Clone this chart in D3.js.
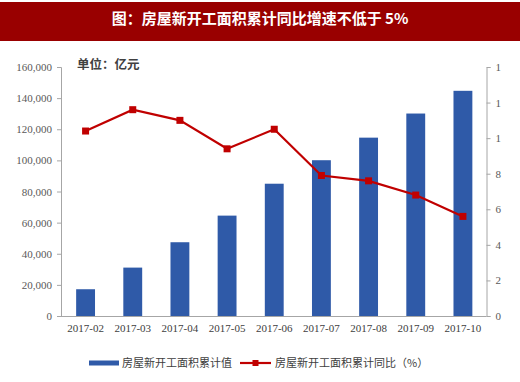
<!DOCTYPE html>
<html><head><meta charset="utf-8">
<script src="https://cdn.jsdelivr.net/npm/d3@7"></script>
<style>html,body{margin:0;padding:0;background:#fff;}svg{display:block;}</style>
</head><body>
<svg id="c" width="520" height="382"></svg>
<script>
const categories = ["2017-02","2017-03","2017-04","2017-05","2017-06","2017-07","2017-08","2017-09","2017-10"];
const areaValues = [17200, 31100, 47400, 64500, 85000, 100100, 114600, 130100, 144700];
const yoyValues = [10.4, 11.6, 11.0, 9.4, 10.5, 7.9, 7.6, 6.8, 5.6];
const leftTicks = [0, 20000, 40000, 60000, 80000, 100000, 120000, 140000, 160000];
const rightTicks = [0, 2, 4, 6, 8, 10, 12, 14];
const rightTickLabels = ["0", "2", "4", "6", "8", "1", "1", "1"];
const title = "图：房屋新开工面积累计同比增速不低于 5%";
const unitText = "单位：亿元";
const seriesNames = ["房屋新开工面积累计值", "房屋新开工面积累计同比（%）"];

const svg = d3.select("#c");
const W = 520, H = 382;
const pTop = 67, pBottom = 316, pLeft = 62, pRight = 486.5;
const blue = "#2F5AA8", red = "#C00000", axisCol = "#a6a6a6", txt = "#595959";
const serif = "'Liberation Serif','Times New Roman',serif";
const cjk = "'Noto Sans CJK SC','Noto Sans',sans-serif";

// title bar
svg.append("rect").attr("x", 0).attr("y", 2).attr("width", W).attr("height", 39).attr("fill", "#990000");
svg.append("text").attr("x", 260).attr("y", 24).attr("text-anchor", "middle")
  .attr("fill", "#fff").attr("font-family", cjk).attr("font-weight", "bold").attr("font-size", 15)
  .text(title);

const x = d3.scaleBand().domain(categories).range([pLeft, pRight]).paddingInner(0.6).paddingOuter(0.3);
const yL = d3.scaleLinear().domain([0, 160000]).range([pBottom, pTop]);
const yR = d3.scaleLinear().domain([0, 14]).range([pBottom, pTop]);

// left axis
const gL = svg.append("g").attr("transform", `translate(${pLeft - 1},0)`)
  .call(d3.axisLeft(yL).tickValues(leftTicks).tickSize(4).tickPadding(5).tickFormat(d3.format(",")));
gL.select(".domain").attr("stroke", axisCol);
gL.selectAll(".tick line").attr("stroke", axisCol);
gL.selectAll("text").attr("fill", txt).attr("font-family", serif).attr("font-size", 11);

// right axis
const gR = svg.append("g").attr("transform", `translate(${pRight},0)`)
  .call(d3.axisRight(yR).tickValues(rightTicks).tickSize(4).tickPadding(5).tickFormat((d, i) => rightTickLabels[i]));
gR.select(".domain").attr("stroke", axisCol);
gR.selectAll(".tick line").attr("stroke", axisCol);
gR.selectAll("text").attr("fill", txt).attr("font-family", serif).attr("font-size", 11);

// bottom axis
const gB = svg.append("g").attr("transform", `translate(0,${pBottom})`)
  .call(d3.axisBottom(x).tickSize(0).tickPadding(8));
gB.select(".domain").attr("stroke", axisCol).attr("d", `M${pLeft - 1},0.5H${pRight}`);
gB.selectAll("text").attr("fill", "#404040").attr("font-family", serif).attr("font-size", 11);

// bars
svg.append("g").selectAll("rect").data(areaValues).join("rect")
  .attr("x", (d, i) => x(categories[i]))
  .attr("y", d => yL(d))
  .attr("width", x.bandwidth())
  .attr("height", d => pBottom - yL(d))
  .attr("fill", blue);

// line
const line = d3.line().x((d, i) => x(categories[i]) + x.bandwidth() / 2).y(d => yR(d));
svg.append("path").datum(yoyValues).attr("d", line).attr("fill", "none")
  .attr("stroke", red).attr("stroke-width", 2.2);
svg.append("g").selectAll("rect").data(yoyValues).join("rect")
  .attr("x", (d, i) => x(categories[i]) + x.bandwidth() / 2 - 3.5)
  .attr("y", d => yR(d) - 3.5)
  .attr("width", 7).attr("height", 7).attr("fill", red);

// unit label
svg.append("text").attr("x", 77).attr("y", 69).attr("fill", "#404040")
  .attr("font-family", cjk).attr("font-weight", "bold").attr("font-size", 12.5).text(unitText);

// legend
const ly = 363;
svg.append("rect").attr("x", 89).attr("y", ly - 2.5).attr("width", 30).attr("height", 5).attr("fill", blue);
svg.append("text").attr("x", 122).attr("y", ly + 4).attr("fill", "#404040")
  .attr("font-family", cjk).attr("font-size", 11).text(seriesNames[0]);
svg.append("line").attr("x1", 240).attr("x2", 271).attr("y1", ly).attr("y2", ly)
  .attr("stroke", red).attr("stroke-width", 2.2);
svg.append("rect").attr("x", 252.5).attr("y", ly - 3).attr("width", 6).attr("height", 6).attr("fill", red);
svg.append("text").attr("x", 275).attr("y", ly + 4).attr("fill", "#404040")
  .attr("font-family", cjk).attr("font-size", 11).text(seriesNames[1]);
</script>
</body></html>
